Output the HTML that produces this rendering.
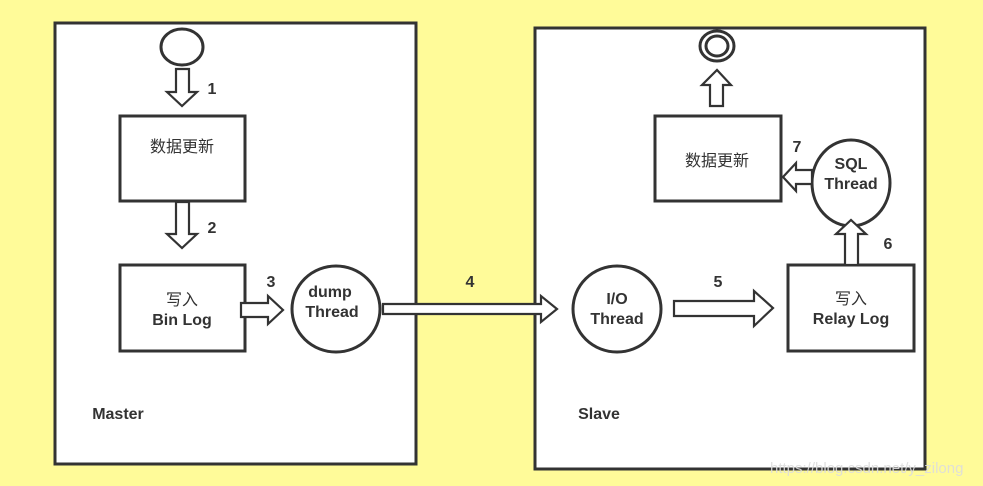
<!DOCTYPE html>
<html><head><meta charset="utf-8"><style>
html,body{margin:0;padding:0;background:#fffb99;}
svg{display:block;}
text{font-family:"Liberation Sans","Noto Sans CJK SC",sans-serif;font-weight:bold;fill:#333;}
.cj{font-family:"Noto Sans CJK SC","Liberation Sans",sans-serif;font-weight:normal;}
</style></head><body>
<svg width="983" height="486" viewBox="0 0 983 486" xmlns="http://www.w3.org/2000/svg">
<rect x="0" y="0" width="983" height="486" fill="#fffb99"/>
<g stroke="#333" stroke-width="3" fill="#fff" stroke-linejoin="miter">
<rect x="55" y="23" width="361" height="441"/>
<rect x="535" y="28" width="390" height="441"/>
<ellipse cx="182" cy="47" rx="21" ry="18"/>
<rect x="120" y="116" width="125" height="85"/>
<rect x="120" y="265" width="125" height="86"/>
<ellipse cx="336" cy="309" rx="44" ry="43"/>
<ellipse cx="617" cy="309" rx="44" ry="43"/>
<rect x="788" y="265" width="126" height="86"/>
<ellipse cx="851" cy="183" rx="39" ry="43"/>
<rect x="655" y="116" width="126" height="85"/>
<ellipse cx="717" cy="46" rx="17" ry="15"/>
<ellipse cx="717" cy="46" rx="11" ry="10"/>
</g>
<g stroke="#333" stroke-width="2.2" fill="#fff" stroke-linejoin="miter">
<!-- arrow 1 down -->
<polygon points="176,69 189,69 189,92 197,92 182,106 167,92 176,92"/>
<!-- arrow 2 down -->
<polygon points="176,202 189,202 189,234 197,234 182,248 167,234 176,234"/>
<!-- arrow 3 right -->
<polygon points="241,303 268,303 268,296 283,310 268,324 268,317 241,317"/>
<!-- arrow 4 right -->
<polygon points="383,304 541,304 541,296 557,309 541,322 541,314 383,314"/>
<!-- arrow 5 right -->
<polygon points="674,301 754,301 754,291 773,308 754,326 754,316 674,316"/>
<!-- arrow 6 up -->
<polygon points="845,265 858,265 858,234 866,234 851,220 836,234 845,234"/>
<!-- arrow 7 left -->
<polygon points="812,170 796,170 796,163 783,177 796,191 796,184 812,184"/>
<!-- arrow up end -->
<polygon points="710,106 723,106 723,85 731,85 717,70 702,85 710,85"/>
</g>
<g font-size="16">
<text x="212" y="94" text-anchor="middle">1</text>
<text x="212" y="233" text-anchor="middle">2</text>
<text x="271" y="287" text-anchor="middle">3</text>
<text x="470" y="287" text-anchor="middle">4</text>
<text x="718" y="287" text-anchor="middle">5</text>
<text x="888" y="249" text-anchor="middle">6</text>
<text x="797" y="152" text-anchor="middle">7</text>
<text class="cj" x="182" y="152" text-anchor="middle">数据更新</text>
<text class="cj" x="717" y="166" text-anchor="middle">数据更新</text>
<text class="cj" x="182" y="305" text-anchor="middle">写入</text>
<text x="182" y="325" text-anchor="middle">Bin Log</text>
<text x="330" y="297" text-anchor="middle">dump</text>
<text x="332" y="317" text-anchor="middle">Thread</text>
<text x="617" y="304" text-anchor="middle">I/O</text>
<text x="617" y="324" text-anchor="middle">Thread</text>
<text class="cj" x="851" y="304" text-anchor="middle">写入</text>
<text x="851" y="324" text-anchor="middle">Relay Log</text>
<text x="851" y="169" text-anchor="middle">SQL</text>
<text x="851" y="189" text-anchor="middle">Thread</text>
<text x="118" y="419" text-anchor="middle">Master</text>
<text x="599" y="419" text-anchor="middle">Slave</text>
</g>
<text x="770" y="473" font-size="15" style="font-weight:normal;fill:#ddd;opacity:0.9">https://blog.csdn.net/y_zilong</text>
</svg>
</body></html>
